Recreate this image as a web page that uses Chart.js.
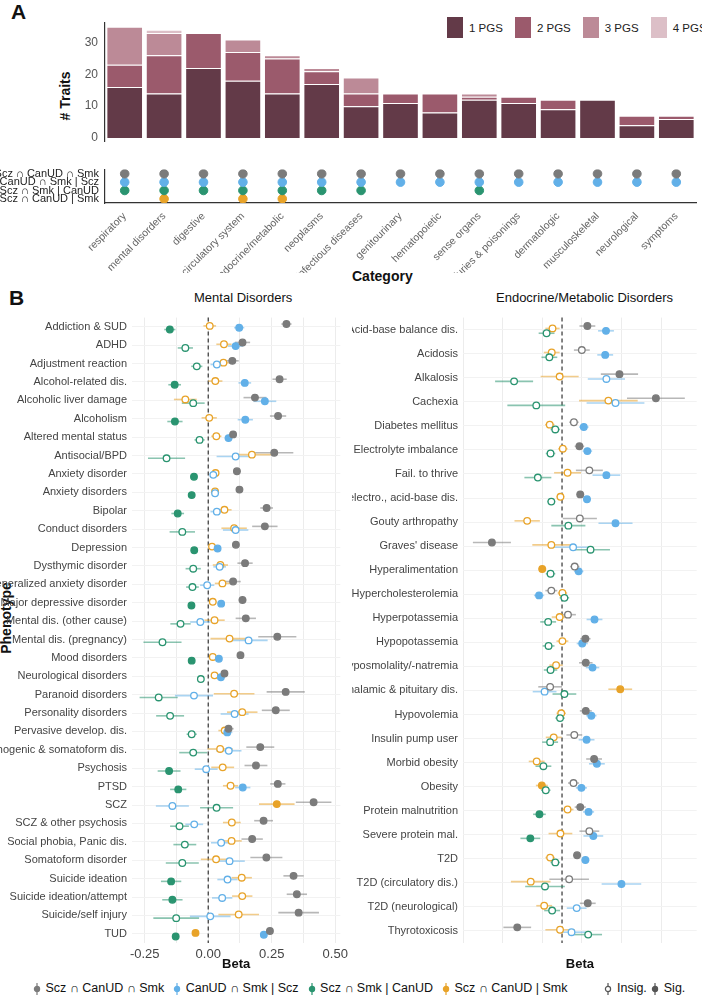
<!DOCTYPE html>
<html><head><meta charset="utf-8">
<script src="https://cdn.jsdelivr.net/npm/chart.js@4"></script>
<style>
body{margin:0;width:702px;height:1000px;background:#fff;font-family:"Liberation Sans",Arial,sans-serif;position:relative;overflow:hidden}
canvas{position:absolute}
.t{position:absolute;white-space:nowrap;color:#111}
</style></head><body>
<div class="t" style="left:11px;top:0px;font-size:21px;font-weight:bold">A</div>
<div class="t" style="left:9px;top:286px;font-size:21px;font-weight:bold">B</div>
<div class="t" style="left:40px;top:88px;font-size:14px;font-weight:bold;transform:rotate(-90deg);transform-origin:center">#&nbsp;Traits</div>
<div class="t" style="left:352px;top:268px;font-size:14px;font-weight:bold">Category</div>
<div class="t" style="left:-30px;top:610px;font-size:14px;font-weight:bold;transform:rotate(-90deg)">Phenotype</div>
<div class="t" style="left:194px;top:290px;font-size:13px">Mental Disorders</div>
<div class="t" style="left:496px;top:290px;font-size:13px">Endocrine/Metabolic Disorders</div>
<div id="lgA" class="t" style="left:447px;top:17px;font-size:11.5px;color:#222"></div>
<div id="lgB" class="t" style="left:32px;top:981px;font-size:12.5px;color:#111"></div>
<canvas id="cA" style="left:0;top:12px" width="702" height="140"></canvas>
<canvas id="cM" style="left:0;top:161px" width="702" height="112"></canvas>
<canvas id="cL" style="left:0;top:306px" width="352" height="670"></canvas>
<canvas id="cR" style="left:352px;top:306px" width="350" height="670"></canvas>
<script>
const categories=["respiratory","mental disorders","digestive","circulatory system","endocrine/metabolic","neoplasms","infectious diseases","genitourinary","hematopoietic","sense organs","injuries & poisonings","dermatologic","musculoskeletal","neurological","symptoms"];
const pgs1=[16,14,22,18,14,17,10,11,8,12,11,9,12,4,6];
const pgs2=[7,12,11,9,11,4,4,3,6,1,2,3,0,3,1];
const pgs3=[12,7,0,4,1,1,5,0,0,1,0,0,0,0,0];
const pgs4=[0,1,0,0,0,0,0,0,0,0,0,0,0,0,0];
const pgsNames=["1 PGS","2 PGS","3 PGS","4 PGS"];
const groups=["Scz ∩ CanUD ∩ Smk","CanUD ∩ Smk | Scz","Scz ∩ Smk | CanUD","Scz ∩ CanUD | Smk"];
const memGrey=[1,1,1,1,1,1,1,1,1,1,1,1,1,1,1];
const memBlue=[1,1,1,1,1,1,1,1,1,1,1,1,1,1,1];
const memGreen=[1,1,1,1,1,1,1,0,0,1,0,0,0,0,0];
const memOrange=[0,1,0,1,1,0,0,0,0,0,0,0,0,0,0];

const mentalLabels=["Addiction & SUD","ADHD","Adjustment reaction","Alcohol-related dis.","Alcoholic liver damage","Alcoholism","Altered mental status","Antisocial/BPD","Anxiety disorder","Anxiety disorders","Bipolar","Conduct disorders","Depression","Dysthymic disorder","Generalized anxiety disorder","Major depressive disorder","Mental dis. (other cause)","Mental dis. (pregnancy)","Mood disorders","Neurological disorders","Paranoid disorders","Personality disorders","Pervasive develop. dis.","Psychogenic & somatoform dis.","Psychosis","PTSD","SCZ","SCZ & other psychosis","Social phobia, Panic dis.","Somatoform disorder","Suicide ideation","Suicide ideation/attempt","Suicide/self injury","TUD"];
// [beta, half-width of CI, significant]
const mentalGrey=[[.308,.02,1],[.135,.03,1],[.095,.025,1],[.281,.028,1],[.184,.045,1],[.275,.032,1],[.098,.015,1],[.26,.075,1],[.113,.015,1],[.123,.013,1],[.23,.025,1],[.223,.05,1],[.109,.012,1],[.145,.03,1],[.098,.03,1],[.135,.015,1],[.148,.04,1],[.272,.075,1],[.127,.01,1],[.064,.012,1],[.305,.075,1],[.266,.055,1],[.08,.02,1],[.205,.055,1],[.188,.045,1],[.274,.03,1],[.415,.07,1],[.218,.037,1],[.173,.042,1],[.229,.063,1],[.336,.04,1],[.349,.04,1],[.356,.08,1],[.243,.012,1]];
const mentalBlue=[[.122,.02,1],[.108,.03,1],[.034,.025,0],[.144,.025,1],[.223,.045,1],[.146,.03,1],[.08,.015,1],[.108,.075,0],[.02,.012,0],[.027,.01,0],[.034,.025,0],[.108,.05,0],[.037,.01,1],[.045,.025,0],[-.004,.028,0],[.051,.012,1],[-.031,.04,0],[.159,.075,0],[.042,.01,1],[.05,.012,1],[-.056,.075,0],[.104,.055,0],[.075,.02,1],[.081,.05,0],[-.008,.045,0],[.136,.03,1],[-.141,.065,0],[-.055,.035,0],[.051,.04,0],[.084,.06,0],[.076,.04,0],[.055,.04,0],[.008,.08,0],[.219,.01,1]];
const mentalGreen=[[-.151,.022,1],[-.09,.03,0],[-.045,.022,0],[-.132,.025,1],[-.059,.045,0],[-.131,.03,1],[-.034,.02,0],[-.164,.073,0],[-.056,.012,1],[-.065,.012,1],[-.12,.025,1],[-.102,.05,0],[-.055,.01,1],[-.059,.03,0],[-.062,.025,0],[-.066,.012,1],[-.109,.04,0],[-.18,.075,0],[-.065,.01,1],[-.029,.012,0],[-.195,.075,0],[-.15,.055,0],[-.065,.02,0],[-.059,.055,0],[-.154,.045,1],[-.118,.032,1],[.033,.065,0],[-.113,.037,0],[-.092,.045,0],[-.102,.065,0],[-.146,.04,1],[-.141,.04,1],[-.126,.09,0],[-.128,.012,1]];
const mentalOrange=[[.006,.025,0],[.062,.03,0],[.06,.025,0],[.028,.028,0],[-.09,.045,0],[.004,.03,0],[.032,.02,0],[.172,.075,0],[.029,.012,0],[.027,.01,0],[.064,.028,0],[.102,.05,0],[.015,.01,0],[.048,.03,0],[.056,.03,0],[.018,.015,0],[.025,.04,0],[.084,.075,0],[.018,.01,0],[.025,.012,0],[.102,.08,0],[.134,.06,0],[.065,.025,0],[.047,.05,0],[.057,.045,0],[.088,.03,0],[.27,.07,1],[.093,.035,0],[.092,.04,0],[.031,.06,0],[.132,.04,0],[.134,.04,0],[.12,.08,0],[-.05,.012,1]];

const endoLabels=["Acid-base balance dis.","Acidosis","Alkalosis","Cachexia","Diabetes mellitus","Electrolyte imbalance","Fail. to thrive","Fluid, electro., acid-base dis.","Gouty arthropathy","Graves' disease","Hyperalimentation","Hypercholesterolemia","Hyperpotassemia","Hypopotassemia","Hyposmolality/-natremia","Hypothalamic & pituitary dis.","Hypovolemia","Insulin pump user","Morbid obesity","Obesity","Protein malnutrition","Severe protein mal.","T2D","T2D (circulatory dis.)","T2D (neurological)","Thyrotoxicosis"];
const endoGrey=[[.064,.02,1],[.05,.02,0],[.145,.047,1],[.237,.073,1],[.03,.012,0],[.044,.012,1],[.069,.034,0],[.046,.01,1],[.045,.043,0],[-.177,.048,1],[.032,.012,0],[-.027,.015,0],[.015,.02,0],[.059,.013,1],[.06,.017,1],[-.03,.03,0],[.06,.015,1],[.031,.02,0],[.081,.02,1],[.029,.014,0],[.046,.014,1],[.069,.025,0],[.038,.01,1],[.018,.05,0],[.065,.02,1],[-.113,.035,1]];
const endoBlue=[[.111,.02,1],[.109,.02,1],[.112,.047,0],[.135,.073,0],[.055,.012,1],[.064,.012,1],[.112,.035,1],[.063,.01,1],[.135,.043,1],[.028,.048,0],[.042,.012,1],[-.058,.013,1],[.082,.02,1],[.051,.014,1],[.077,.017,1],[-.044,.03,0],[.074,.013,1],[.062,.02,1],[.088,.02,1],[.049,.014,1],[.067,.014,1],[.079,.025,1],[.059,.01,1],[.15,.05,1],[.037,.025,0],[.024,.035,0]];
const endoGreen=[[-.039,.02,0],[-.032,.02,0],[-.121,.048,0],[-.065,.073,0],[-.017,.012,0],[-.029,.012,0],[-.061,.034,0],[-.027,.01,0],[.016,.043,0],[.072,.049,0],[-.029,.012,0],[.006,.012,0],[-.035,.02,0],[-.034,.015,0],[-.029,.017,0],[.006,.03,0],[-.005,.012,0],[-.03,.02,0],[-.047,.02,0],[-.041,.012,0],[-.057,.016,1],[-.08,.025,1],[-.017,.012,0],[-.043,.05,0],[-.025,.02,0],[.066,.035,0]];
const endoOrange=[[-.024,.018,0],[-.026,.02,0],[-.006,.048,0],[.117,.074,0],[-.031,.012,0],[.002,.012,0],[.014,.034,0],[-.004,.01,0],[-.088,.032,0],[-.027,.048,0],[-.05,.01,1],[.001,.012,0],[-.006,.02,0],[.001,.015,0],[-.015,.017,0],[.147,.03,1],[-.002,.012,0],[-.021,.02,0],[-.064,.02,0],[-.051,.015,1],[.014,.015,0],[-.004,.03,0],[-.03,.012,0],[-.079,.05,0],[-.045,.02,0],[-.005,.037,0]];

const COL={grey:"#7b7b7b",blue:"#62b0e8",green:"#2a9470",orange:"#e8a329"};
const PGSCOL=["#633a48","#9b5a6c","#bc8a97","#dcbfc7"];
const NARROW='"Liberation Sans Narrow", "Liberation Sans", Arial, sans-serif';

document.getElementById('lgA').innerHTML=pgsNames.map((n,i)=>`<span style="display:inline-block;width:16px;height:21px;background:${PGSCOL[i]};vertical-align:middle;margin-right:6px"></span><span style="vertical-align:middle;margin-right:12px">${n}</span>`).join('');
const sym=(c,f)=>`<svg width="10" height="14" style="vertical-align:middle"><line x1="5" y1="1" x2="5" y2="13" stroke="${c}" stroke-width="1.2"/><circle cx="5" cy="7" r="2.6" fill="${f?c:'#fff'}" stroke="${c}" stroke-width="1.2"/></svg>`;
const gcols=[COL.grey,COL.blue,COL.green,COL.orange];
document.getElementById('lgB').innerHTML=groups.map((g,i)=>`${sym(gcols[i],1)} <span style="margin-right:${i==3?36:8}px">${g}</span>`).join('')+`${sym('#555',0)} Insig. ${sym('#555',1)} Sig.`;

Chart.defaults.font.family='"Liberation Sans", Arial, sans-serif';
Chart.defaults.animation=false;

new Chart(document.getElementById('cA'),{type:'bar',
 data:{labels:categories,datasets:[pgs1,pgs2,pgs3,pgs4].map((d,i)=>({label:pgsNames[i],data:d,backgroundColor:PGSCOL[i],borderColor:'#fff',borderWidth:{top:1,left:1,right:1,bottom:0},categoryPercentage:1,barPercentage:0.93}))},
 options:{responsive:false,layout:{padding:{top:6,right:6,bottom:0}},plugins:{legend:{display:false},tooltip:{enabled:false}},
  scales:{x:{stacked:true,display:false},
   y:{stacked:true,min:-1.2,max:36.4,afterBuildTicks:a=>{a.ticks=[0,10,20,30].map(v=>({value:v}))},afterFit:a=>{a.width=105},
    grid:{display:false,drawTicks:true,tickLength:4},border:{color:'#333',width:1.2},ticks:{color:'#555',font:{size:12}}}}}});

const mems=[memGrey,memBlue,memGreen,memOrange];
const memDS=mems.map((m,g)=>({data:categories.map((c,i)=>m[i]?{x:c,y:g}:null).filter(Boolean),backgroundColor:gcols[g],borderColor:gcols[g],pointRadius:4.3,pointHoverRadius:4.3}));
const linkPlugin={id:'link',beforeDatasetsDraw(ch){const c=ch.ctx,xs=ch.scales.x,ys=ch.scales.y;c.save();c.strokeStyle='#444';c.lineWidth=1.3;
 categories.forEach((cat,i)=>{let last=0;mems.forEach((m,g)=>{if(m[i])last=g});const x=xs.getPixelForValue(i);c.beginPath();c.moveTo(x,ys.getPixelForValue(0));c.lineTo(x,ys.getPixelForValue(last));c.stroke();});c.restore();}};
new Chart(document.getElementById('cM'),{type:'scatter',data:{labels:categories,datasets:memDS},plugins:[linkPlugin],
 options:{responsive:false,layout:{padding:{top:3,right:6}},plugins:{legend:{display:false},tooltip:{enabled:false}},
  scales:{x:{type:'category',labels:categories,offset:true,afterFit:a=>{a.height=70},grid:{display:false,tickLength:4},border:{color:'#333',width:1.2},ticks:{color:'#666',font:{size:10.5,family:NARROW},maxRotation:45,minRotation:45,autoSkip:false}},
   y:{min:-0.5,max:3.5,reverse:true,afterBuildTicks:a=>{a.ticks=[0,1,2,3].map(v=>({value:v}))},afterFit:a=>{a.width=105},grid:{display:false,tickLength:4},border:{color:'#333',width:1.2},
    ticks:{color:'#222',font:{size:11,family:NARROW},autoSkip:false,padding:2,callback:v=>groups[v]}}}}});

const OFF=[-0.15,0.05,0.15,-0.05];
function forest(id,labels,series,xmin,xmax,step,ywidth,fmt){
 const ds=series.map((s,g)=>({data:s.map((d,i)=>({x:d[0],y:i+OFF[g]})),pointRadius:3.3,borderWidth:1.3,borderColor:gcols[g],
   pointBackgroundColor:s.map(d=>d[2]?gcols[g]:'#fff'),hw:s.map(d=>d[1])}));
 const errPlugin={id:'err',beforeDatasetsDraw(ch){const c=ch.ctx,xs=ch.scales.x,ys=ch.scales.y;c.save();
  c.strokeStyle='#222';c.setLineDash([4,3]);c.lineWidth=1.1;const x0=xs.getPixelForValue(0);c.beginPath();c.moveTo(x0,ys.top);c.lineTo(x0,ys.bottom);c.stroke();c.setLineDash([]);
  ch.data.datasets.forEach(d=>{c.strokeStyle=d.borderColor;c.globalAlpha=0.55;c.lineWidth=1.6;
   d.data.forEach((p,i)=>{const y=ys.getPixelForValue(p.y);c.beginPath();c.moveTo(xs.getPixelForValue(p.x-d.hw[i]),y);c.lineTo(xs.getPixelForValue(p.x+d.hw[i]),y);c.stroke();});});
  c.restore();}};
 new Chart(document.getElementById(id),{type:'scatter',data:{datasets:ds},plugins:[errPlugin],
  options:{responsive:false,layout:{padding:{top:3,right:3}},plugins:{legend:{display:false},tooltip:{enabled:false}},
   scales:{x:{min:xmin,max:xmax,afterBuildTicks:a=>{const t=[];for(let v=Math.ceil(xmin/step*2)/2*step;v<=xmax+1e-9;v+=step/2)t.push({value:+v.toFixed(4)});a.ticks=t},
     afterFit:a=>{a.height=33},grid:{color:'#ececec',drawTicks:false},border:{display:false},
     ticks:{color:'#444',font:{size:13},padding:4,callback:v=>{const k=Math.round(v/step*1e6)/1e6;return Number.isInteger(k)?fmt(v):''}},
     title:{display:true,text:'Beta',color:'#111',font:{size:13,weight:'bold'},padding:{top:0}}},
    y:{min:-0.5,max:labels.length-0.5,reverse:true,afterBuildTicks:a=>{a.ticks=labels.map((l,i)=>({value:i}))},afterFit:a=>{a.width=ywidth},
     grid:{color:'#f2f2f2',drawTicks:false},border:{display:false},ticks:{color:'#444',font:{size:11,family:NARROW},padding:5,autoSkip:false,callback:v=>labels[v]}}}}});
}
forest('cL',mentalLabels,[mentalGrey,mentalBlue,mentalGreen,mentalOrange],-0.30,0.52,0.25,132,v=>v.toFixed(2));
forest('cR',endoLabels,[endoGrey,endoBlue,endoGreen,endoOrange],-0.25,0.34,0.1,111,v=>v.toFixed(1));
</script></body></html>
